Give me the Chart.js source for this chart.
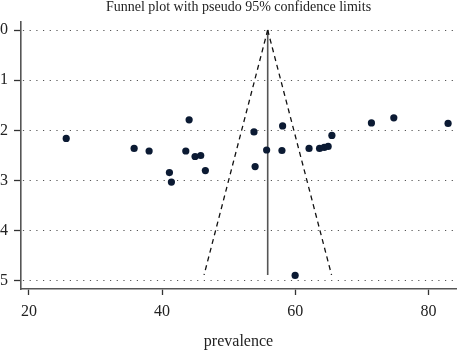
<!DOCTYPE html>
<html>
<head>
<meta charset="utf-8">
<script src="https://cdn.jsdelivr.net/npm/chart.js@4"></script>
<style>
  html, body { margin: 0; padding: 0; background: #fff; }
  #wrap { width: 460px; height: 351px; }
</style>
</head>
<body>
<div id="wrap"><canvas id="chart" width="460" height="351"></canvas></div>
<script>
// study prevalence (x) and standard error (y)
const prevalence = [25.6, 35.8, 38.05, 41.1, 41.4, 43.56, 44.06, 44.95, 45.8, 46.5,
  53.8, 53.97, 55.7, 58.0, 58.1, 59.98, 62.07, 63.65, 64.35, 64.94, 65.5,
  71.44, 74.8, 82.95];
const stdError = [2.16, 2.36, 2.41, 2.84, 3.03, 2.41, 1.79, 2.52, 2.5, 2.8,
  2.03, 2.72, 2.39, 2.4, 1.91, 4.89, 2.36, 2.36, 2.34, 2.32, 2.1,
  1.85, 1.75, 1.86];

// pseudo 95% limits and pooled estimate
const leftLimitX = [55.86, 46.3];
const rightLimitX = [55.86, 65.45];
const pooledX = [55.86, 55.86];
const limitY = [0, 4.88];

const xTicks = [20, 40, 60, 80];
const yTicks = [0, 1, 2, 3, 4, 5];

const serif = "'Liberation Serif', 'Times New Roman', serif";

const toPoints = (xs, ys) => xs.map((x, i) => ({ x: x, y: ys[i] }));

new Chart(document.getElementById("chart"), {
  type: "scatter",
  data: {
    datasets: [
      {
        label: "studies",
        data: toPoints(prevalence, stdError),
        backgroundColor: "#0b1a33",
        borderWidth: 0,
        pointRadius: 3.6,
      },
      {
        type: "line",
        label: "lower limit",
        data: toPoints(leftLimitX, limitY),
        borderColor: "#111",
        borderWidth: 1.3,
        borderDash: [5, 4],
        pointRadius: 0,
        fill: false,
      },
      {
        type: "line",
        label: "upper limit",
        data: toPoints(rightLimitX, limitY),
        borderColor: "#111",
        borderWidth: 1.3,
        borderDash: [5, 4],
        pointRadius: 0,
        fill: false,
      },
      {
        type: "line",
        label: "pooled",
        data: toPoints(pooledX, limitY),
        borderColor: "#555",
        borderWidth: 1.6,
        pointRadius: 0,
        fill: false,
      },
    ],
  },
  options: {
    responsive: false,
    animation: false,
    devicePixelRatio: 1,
    layout: { padding: 0 },
    plugins: {
      legend: { display: false },
      tooltip: { enabled: false },
      title: {
        display: true,
        text: "Funnel plot with pseudo 95% confidence limits",
        fullSize: false,
        color: "#222",
        font: { family: serif, size: 14, weight: "normal", lineHeight: 1 },
        padding: { top: 0, bottom: 8 },
      },
    },
    scales: {
      x: {
        type: "linear",
        min: 18.81,
        max: 84.14,
        afterBuildTicks: (scale) => {
          scale.ticks = xTicks.map((v) => ({ value: v }));
        },
        afterFit: (scale) => {
          scale.height = 62;
        },
        border: { color: "#555", width: 1.6 },
        grid: {
          drawOnChartArea: false,
          drawTicks: true,
          tickLength: 6,
          tickColor: "#333",
          tickWidth: 1.3,
        },
        ticks: {
          color: "#222",
          padding: 7,
          maxRotation: 0,
          font: { family: serif, size: 16 },
        },
        title: {
          display: true,
          text: "prevalence",
          color: "#222",
          padding: 0,
          font: { family: serif, size: 16 },
        },
      },
      y: {
        type: "linear",
        reverse: true,
        min: -0.16,
        max: 5.16,
        afterBuildTicks: (scale) => {
          scale.ticks = yTicks.map((v) => ({ value: v }));
        },
        afterFit: (scale) => {
          scale.width = 21;
        },
        border: { color: "#555", width: 1.6, dash: [1.2, 5.5], dashOffset: -8 },
        grid: {
          color: "#555",
          lineWidth: 1,
          tickBorderDash: [],
          tickColor: "#333",
          tickWidth: 1.3,
          tickLength: 7,
        },
        ticks: {
          color: "#222",
          padding: 6,
          font: { family: serif, size: 16 },
        },
      },
    },
  },
});
</script>
</body>
</html>
